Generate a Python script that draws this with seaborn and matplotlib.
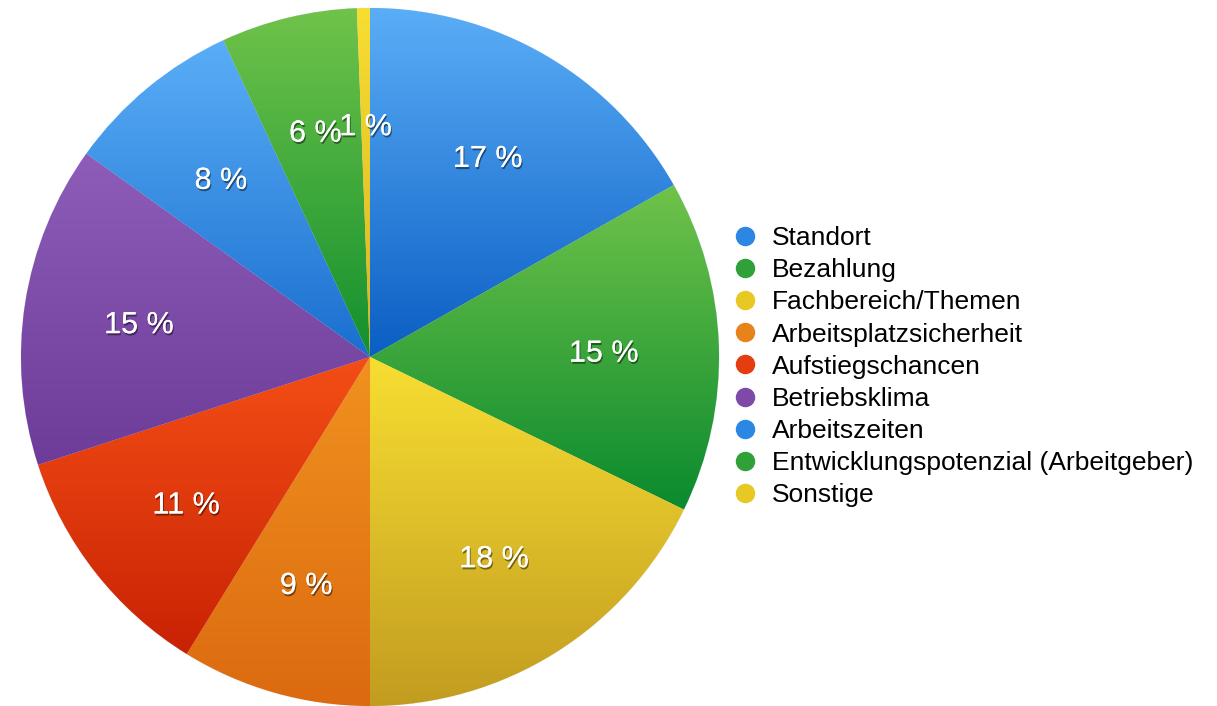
import numpy as np
import matplotlib
matplotlib.use("Agg")
import matplotlib.pyplot as plt
import matplotlib.patheffects as pe
from matplotlib.colors import LinearSegmentedColormap
from matplotlib.lines import Line2D
import seaborn as sns

categories = ["Standort", "Bezahlung", "Fachbereich/Themen", "Arbeitsplatzsicherheit",
              "Aufstiegschancen", "Betriebsklima", "Arbeitszeiten",
              "Entwicklungspotenzial (Arbeitgeber)", "Sonstige"]
shares = [16.8, 15.4, 17.8, 8.8, 11.2, 14.9, 8.2, 6.3, 0.6]

top_colors = ["#5aaef7", "#70c34a", "#f8de32", "#f0921f", "#f44e16", "#8d5db9", "#5aaef7", "#70c34a", "#f8de32"]
bottom_colors = ["#0b5ec3", "#0a8a2e", "#c29c20", "#dc6a10", "#c82204", "#6c3c98", "#1a6fcf", "#12902e", "#d8b420"]
legend_colors = ["#2b86e4", "#30a038", "#e8c822", "#e8821a", "#e43e10", "#7e4aa8", "#2b86e4", "#30a038", "#e8c822"]

sns.set_theme(style="white")
plt.rcParams["font.family"] = ["Liberation Sans", "DejaVu Sans"]

fig = plt.figure(figsize=(12.17, 7.06), dpi=100)
cx, cy, r = 370, 357, 349
ax = fig.add_axes([(cx - r) / 1217, (706 - cy - r) / 706, 2 * r / 1217, 2 * r / 706])

wedges, texts, autotexts = ax.pie(
    shares, startangle=90, counterclock=False, colors=legend_colors,
    autopct="%.0f %%", pctdistance=0.67,
    wedgeprops=dict(linewidth=0.6, edgecolor="#e8f0ff"),
    textprops=dict(color="white", fontsize=22),
)

# vertical gradient inside every slice
grad = np.linspace(0, 1, 256).reshape(-1, 1)
for w, c_top, c_bot in zip(wedges, top_colors, bottom_colors):
    ext = w.get_path().get_extents()
    cmap = LinearSegmentedColormap.from_list("g", [c_bot, c_top])
    im = ax.imshow(grad, cmap=cmap, origin="lower", aspect="auto",
                   extent=(ext.x0, ext.x1, ext.y0, ext.y1), zorder=1.5)
    im.set_clip_path(w)

for t in autotexts:
    x, y = t.get_position()
    t.set_position((x, y - 0.0115))
    t.set_zorder(5)
    t.set_path_effects([pe.withSimplePatchShadow(offset=(0.8, -1.5), shadow_rgbFace="black", alpha=0.45),
                        pe.Normal()])

ax.set_xlim(-1, 1)
ax.set_ylim(-1, 1)
ax.set_aspect("equal")
ax.axis("off")

handles = [Line2D([0], [0], marker="o", linestyle="", markersize=13,
                  markerfacecolor=c, markeredgecolor=c) for c in legend_colors]
fig.legend(handles, categories, loc="upper left", bbox_to_anchor=(732 / 1217, 1 - 226 / 706),
           frameon=False, fontsize=19, labelspacing=0.31, handletextpad=0.52,
           handlelength=1.0, borderaxespad=0, borderpad=0, labelcolor="black")

fig.savefig("out.png", dpi=100)
